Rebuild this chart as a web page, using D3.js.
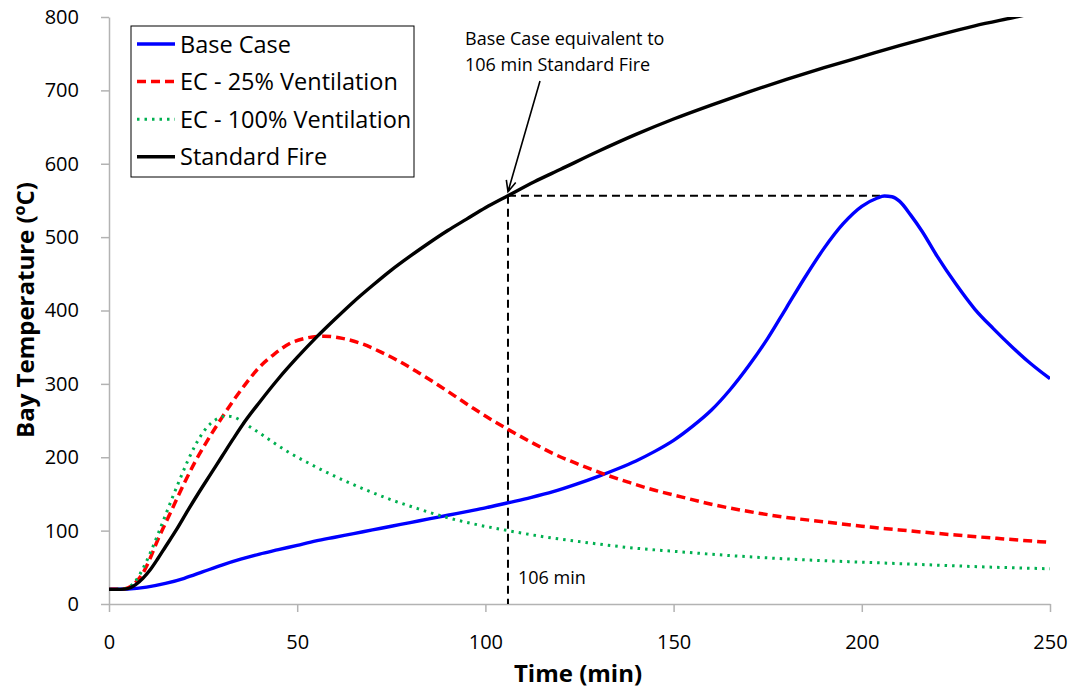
<!DOCTYPE html>
<html>
<head>
<meta charset="utf-8">
<script src="https://cdn.jsdelivr.net/npm/d3@7"></script>
<style>
  html, body { margin: 0; padding: 0; background: #fff; }
  svg { display: block; font-family: "Open Sans", "Noto Sans", sans-serif; }
</style>
</head>
<body>
<svg id="chart" width="1075" height="695"></svg>
<script>
// Time (min) / temperature (°C) pairs for each scenario
const standardFire = [[0,20],[3,20],[5,21],[7,26],[9,35],[11,47],[13,62],[15,78],[18,102],[21,128],[24,153],[27,177],[30,201],[33,225],[36,248],[40,275],[45,307],[50,336],[55,363],[60,388],[65,412],[70,434],[75,455],[80,474],[85,492],[90,509],[95,524.5],[100,540],[106,556.5],[113,575.5],[120,592.5],[130,617],[140,640],[150,661],[160,680],[170,698],[180,715],[190,731],[200,746],[210,761],[220,775],[230,788],[240,799],[250,810]];

const baseCase = [[0,20],[5,20.5],[10,23],[15,28],[20,35],[25,44],[30,53],[35,61],[40,68],[45,74],[50,80],[55,86],[60,91],[65,96],[70,101],[75,106],[80,111],[85,116],[90,121],[95,126],[100,131],[106,138],[112,145],[118,153],[124,163],[130,174],[135,184],[140,195],[145,208],[150,223],[155,242],[160,264],[165,292],[170,325],[175,362],[180,404],[185,446],[190,485],[195,518],[200,542],[204,553],[206,556],[208,555],[210,549],[213,530],[216,508],[220,474],[225,436],[230,402],[235,375],[240,350],[245,327],[250,307]];

const ec25 = [[0,20],[3,20],[5,22],[7,29],[9,42],[11,63],[13,88],[15,110],[17,132],[19,154],[21,175],[23,195],[25,213],[27,230],[30,254],[33,277],[36,298],[40,323],[44,341],[48,355],[52,362],[57,365],[62,362],[67,355],[72,344],[77,331],[82,316],[87,300],[92,283],[97,266],[102,250],[106,238],[112,221],[118,205],[124,192],[131,178],[138,166],[145,155],[152,146],[160,136],[170,126],[180,118],[190,112],[200,106],[212,100],[225,94],[237,89],[250,84]];

const ec100 = [[0,20],[3,20],[5,22],[7,31],[9,48],[11,70],[13,95],[15,121],[17,147],[19,172],[21,196],[23,217],[25,234],[27,246],[29,253],[31,256],[33,255],[35,250],[37,243],[40,233],[44,219],[48,206],[53,192],[58,179],[63,167],[68,156],[75,142],[82,130],[89,119],[97,109],[106,100],[115,92],[125,85],[138,77],[152,71],[165,66],[178,62],[190,59],[200,57],[215,54],[230,51],[250,48]];

const seriesNames = ["Base Case", "EC - 25% Ventilation", "EC - 100% Ventilation", "Standard Fire"];
const xTicks = [0, 50, 100, 150, 200, 250];
const yTicks = [0, 100, 200, 300, 400, 500, 600, 700, 800];
const equivalentTime = 106;

const seriesStyle = [
  { data: baseCase,     color: "#0000ff", width: 3.4, dash: null },
  { data: ec25,         color: "#ff0000", width: 3.5, dash: "9,5" },
  { data: ec100,        color: "#00b050", width: 3,   dash: "2.5,5" },
  { data: standardFire, color: "#000000", width: 3.4, dash: null }
];

const svg = d3.select("#chart");
const plot = { left: 109, right: 1050, top: 17, bottom: 604 };

const x = d3.scaleLinear().domain([0, 250]).range([plot.left, plot.right]);
const y = d3.scaleLinear().domain([0, 800]).range([plot.bottom, plot.top]);

svg.append("defs").append("clipPath").attr("id", "plotClip")
  .append("rect")
  .attr("x", plot.left).attr("y", plot.top)
  .attr("width", plot.right - plot.left).attr("height", plot.bottom - plot.top);

// Axes
const axisColor = "#b3b3b3";
const gx = svg.append("g")
  .attr("transform", `translate(0,${plot.bottom})`)
  .call(d3.axisBottom(x).tickValues(xTicks).tickSize(8).tickPadding(23).tickSizeOuter(0));
const gy = svg.append("g")
  .attr("transform", `translate(${plot.left},0)`)
  .call(d3.axisLeft(y).tickValues(yTicks).tickSize(8).tickPadding(22).tickSizeOuter(0));
[gx, gy].forEach(g => {
  g.select(".domain").attr("stroke", axisColor).attr("stroke-width", 1.5);
  g.selectAll(".tick line").attr("stroke", axisColor).attr("stroke-width", 1.5);
  g.selectAll(".tick text")
    .attr("fill", "#000")
    .style("font-family", "'Open Sans', sans-serif")
    .style("font-size", "20px");
});

// Axis titles
svg.append("text")
  .attr("x", 578).attr("y", 682)
  .attr("text-anchor", "middle")
  .style("font-size", "24px").style("font-weight", "bold")
  .text("Time (min)");

const yt = svg.append("text")
  .attr("transform", `translate(34,310) rotate(-90)`)
  .attr("text-anchor", "middle")
  .style("font-size", "24px").style("font-weight", "bold");
yt.append("tspan").text("Bay Temperature (");
yt.append("tspan").text("o").style("font-size", "16px").attr("dy", -9);
yt.append("tspan").text("C)").attr("dy", 9);

// Equivalent-time guide lines
const stdAt = d3.scaleLinear().domain(standardFire.map(d => d[0])).range(standardFire.map(d => d[1]));
const eqTemp = stdAt(equivalentTime);
const peak = baseCase.reduce((a, b) => (b[1] > a[1] ? b : a));

const guides = svg.append("g")
  .attr("stroke", "#000").attr("stroke-width", 2).attr("stroke-dasharray", "8,5").attr("fill", "none");
guides.append("line")
  .attr("x1", x(equivalentTime)).attr("x2", x(equivalentTime))
  .attr("y1", y(eqTemp)).attr("y2", y(0));
guides.append("line")
  .attr("x1", x(equivalentTime)).attr("x2", x(peak[0]))
  .attr("y1", y(eqTemp)).attr("y2", y(eqTemp));

// Series lines
const line = d3.line()
  .x(d => x(d[0]))
  .y(d => y(d[1]))
  .curve(d3.curveMonotoneX);

svg.append("g").attr("clip-path", "url(#plotClip)")
  .selectAll("path")
  .data(seriesStyle)
  .join("path")
  .attr("fill", "none")
  .attr("stroke", d => d.color)
  .attr("stroke-width", d => d.width)
  .attr("stroke-dasharray", d => d.dash)
  .attr("stroke-linejoin", "round")
  .attr("d", d => line(d.data));

// Annotation: label and arrow to the equivalence point
const ann = svg.append("text")
  .attr("x", 465).attr("y", 45)
  .style("font-size", "18px");
ann.append("tspan").attr("x", 465).text("Base Case equivalent to");
ann.append("tspan").attr("x", 465).attr("dy", 26).text(`${equivalentTime} min Standard Fire`);

const tipX = x(equivalentTime), tipY = y(eqTemp) - 4;
const tailX = 540, tailY = 81;
const ang = Math.atan2(tipY - tailY, tipX - tailX);
const headLen = 12, headAng = 0.42;
svg.append("path")
  .attr("fill", "none").attr("stroke", "#000").attr("stroke-width", 1.6)
  .attr("d",
    `M${tailX},${tailY}L${tipX},${tipY}` +
    `M${tipX - headLen * Math.cos(ang - headAng)},${tipY - headLen * Math.sin(ang - headAng)}` +
    `L${tipX},${tipY}` +
    `L${tipX - headLen * Math.cos(ang + headAng)},${tipY - headLen * Math.sin(ang + headAng)}`);

svg.append("text")
  .attr("x", x(equivalentTime) + 10).attr("y", 584)
  .style("font-size", "18px")
  .text(`${equivalentTime} min`);

// Legend
const legend = svg.append("g");
legend.append("rect")
  .attr("x", 131).attr("y", 26).attr("width", 283).attr("height", 151)
  .attr("fill", "#fff").attr("stroke", "#000").attr("stroke-width", 1);
const rows = legend.selectAll("g.row")
  .data(seriesStyle.map((s, i) => ({ ...s, name: seriesNames[i] })))
  .join("g").attr("class", "row")
  .attr("transform", (d, i) => `translate(0,${44 + i * 37.6})`);
rows.append("line")
  .attr("x1", 137).attr("x2", 175).attr("y1", 0).attr("y2", 0)
  .attr("stroke", d => d.color)
  .attr("stroke-width", d => d.width)
  .attr("stroke-dasharray", d => d.dash);
rows.append("text")
  .attr("x", 180).attr("y", 8.5)
  .style("font-size", "23.5px")
  .text(d => d.name);
</script>
</body>
</html>
